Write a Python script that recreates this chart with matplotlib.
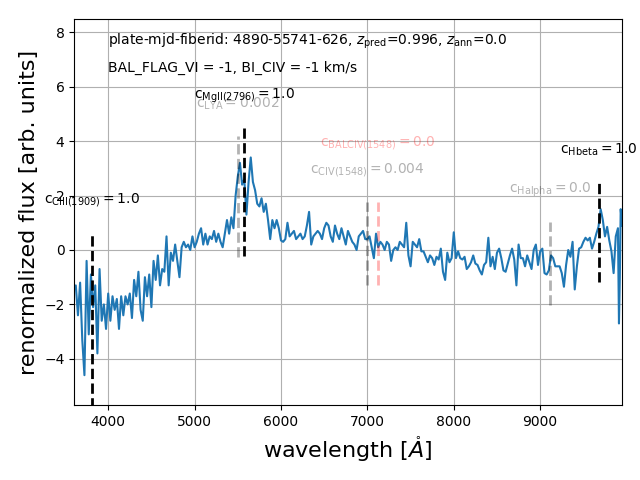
import numpy as np
import matplotlib
matplotlib.use("Agg")
import matplotlib.pyplot as plt

# spectrum on a 25 A grid
wave = np.arange(3600, 9901, 25)
flux = [
    -1.5, -1.3, -2.4, -1.2, -3.3, -4.6, -0.4, -3.1, -0.9, -2.1,   # 3600-3825
    -1.3, -3.8, -0.7, -2.6, -2.0, -2.9, -1.6, -2.6, -1.7, -2.2,   # 3850-4075
    -1.8, -2.9, -1.7, -2.4, -1.7, -2.0, -1.6, -2.5, -1.1, -1.7,   # 4100-4325
    -0.8, -2.2, -2.6, -1.0, -1.7, -0.9, -2.1, -0.4, -1.1, -0.2,   # 4350-4575
    -1.3, -0.7, -0.8, 0.5, -1.3, -0.1, -0.4, 0.2, -0.4, -1.0,     # 4600-4825
    0.1, 0.3, 0.1, 0.2, 0.0, 0.5, 0.1, 0.3, 0.6, 0.8,             # 4850-5075
    0.2, 0.6, 0.2, 0.5, 0.4, 0.7, 0.3, 0.6, 0.3, 0.1,             # 5100-5325
    0.6, 1.1, 0.6, 1.2, 0.8, 2.0, 2.7, 3.2, 2.4, 2.6,             # 5350-5575
    1.3, 2.5, 3.4, 2.5, 2.2, 1.7, 1.6, 1.9, 1.4, 1.7,             # 5600-5825
    1.1, 0.4, 1.1, 0.8, 1.1, 0.8, 0.35, 0.3, 0.4, 1.0,            # 5850-6075
    0.5, 0.6, 0.7, 0.4, 0.5, 0.6, 0.4, 0.5, 0.9, 1.4,             # 6100-6325
    0.2, 0.5, 0.6, 0.7, 0.6, 0.4, 0.8, 1.0, 0.9, 0.5,             # 6350-6575
    0.3, 0.9, 0.6, 0.4, 0.8, 0.5, 0.2, 0.7, 0.5, 0.3,             # 6600-6825
    0.2, 0.0, 0.5, 0.6, 0.7, 0.4, 0.4, 0.5, 0.1, -0.3,            # 6850-7075
    0.6, 0.1, 0.3, 0.2, 0.0, 0.3, 0.2, -0.4, 0.0, 0.1,            # 7100-7325
    0.0, 0.3, 0.2, 0.1, 1.0, -0.2, -0.6, 0.3, 0.2, 0.1,           # 7350-7575
    0.4, -0.05, -0.05, -0.25, -0.45, -0.2, -0.3, -0.55, -0.25, -0.35,  # 7600-7825
    0.05, -0.8, -1.1, -0.1, -0.45, -0.3, 0.65, -0.3, -0.05, -0.3,      # 7850-8075
    -0.35, -0.25, -0.7, -0.6, -0.45, -0.2, -0.5, -0.55, -0.75, -0.9,   # 8100-8325
    -0.55, -0.45, 0.45, -0.6, -0.25, -0.7, -0.1, 0.05, -0.3, -0.75,    # 8350-8575
    -0.8, -0.5, -0.2, 0.05, -0.35, -1.3, 0.2, -0.3, -0.3, -0.6,        # 8600-8825
    -0.2, -0.45, -0.7, 0.0, 0.2, -0.55, -0.05, 0.05, -0.85, -0.9,      # 8850-9075
    -0.75, -0.2, -0.3, -0.6, -0.6, -0.6, -0.85, -1.35, -0.55, 0.0,     # 9100-9325
    -0.25, 0.3, -1.45, -0.6, 0.05, 0.1, 0.3, 0.45, 0.35, 0.45,         # 9350-9575
    0.05, 0.3, 0.6, 0.85, 1.5, 1.1, 0.5, 0.85, 0.35, -0.05,            # 9600-9825
    -0.85, 0.5, 0.8,                                                   # 9850-9900
]
tail_wave = [9912, 9922, 9932, 9948]
tail_flux = [-2.7, -1.0, 1.5, 0.9]

# emission line markers: name, wavelength, ymin, ymax, colour, alpha, label
line_names = ["CIII(1909)", "LYA", "MgII(2796)", "CIV(1548)", "BALCIV(1548)", "Halpha", "Hbeta"]
line_waves = [3815, 5505, 5577, 7000, 7118, 9118, 9678]
line_ymin = [-5.8, -0.26, -0.22, -1.3, -1.3, -2.02, -1.16]
line_ymax = [0.66, 4.2, 4.5, 1.77, 1.77, 1.04, 2.5]
line_conf = ["1.0", "0.002", "1.0", "0.004", "0.0", "0.0", "1.0"]
line_color = ["k", "k", "k", "k", "r", "k", "k"]
line_alpha = [1.0, 0.3, 1.0, 0.3, 0.3, 0.3, 1.0]
label_lift = [1.18, 1.18, 1.18, 1.18, 2.16, 1.18, 1.18]

fig = plt.figure(figsize=(6.4, 4.8), dpi=100)
ax = fig.add_subplot(111)
fig.subplots_adjust(left=0.116, right=0.972, bottom=0.156, top=0.960)

ax.plot(np.concatenate([wave, tail_wave]), np.concatenate([flux, tail_flux]),
        color="C0", lw=1.5)

for name, w, y0, y1, c, a, conf, lift in zip(line_names, line_waves, line_ymin,
                                               line_ymax, line_color, line_alpha,
                                               line_conf, label_lift):
    ax.plot([w, w], [y0, y1], ls="--", color=c, alpha=a, lw=2)
    ax.text(w, y1 + lift, r"$\rm c_{%s} = %s$" % (name, conf), color=c, alpha=a,
            ha="center", va="center", fontsize=10, clip_on=False, zorder=5)

ax.text(0.062, 0.943,
        r"plate-mjd-fiberid: 4890-55741-626, $z_{\rm pred}$=0.996, $z_{\rm ann}$=0.0",
        transform=ax.transAxes, fontsize=10, va="center")
ax.text(0.062, 0.873, "BAL_FLAG_VI = -1, BI_CIV = -1 km/s",
        transform=ax.transAxes, fontsize=10, va="center")

ax.set_xlim(3607, 9948)
ax.set_ylim(-5.7, 8.48)
ax.grid(True)
ax.set_xlabel(r"wavelength [$\mathring{A}$]", fontsize=16)
ax.set_ylabel("renormalized flux [arb. units]", fontsize=16)

fig.savefig("out.png")
